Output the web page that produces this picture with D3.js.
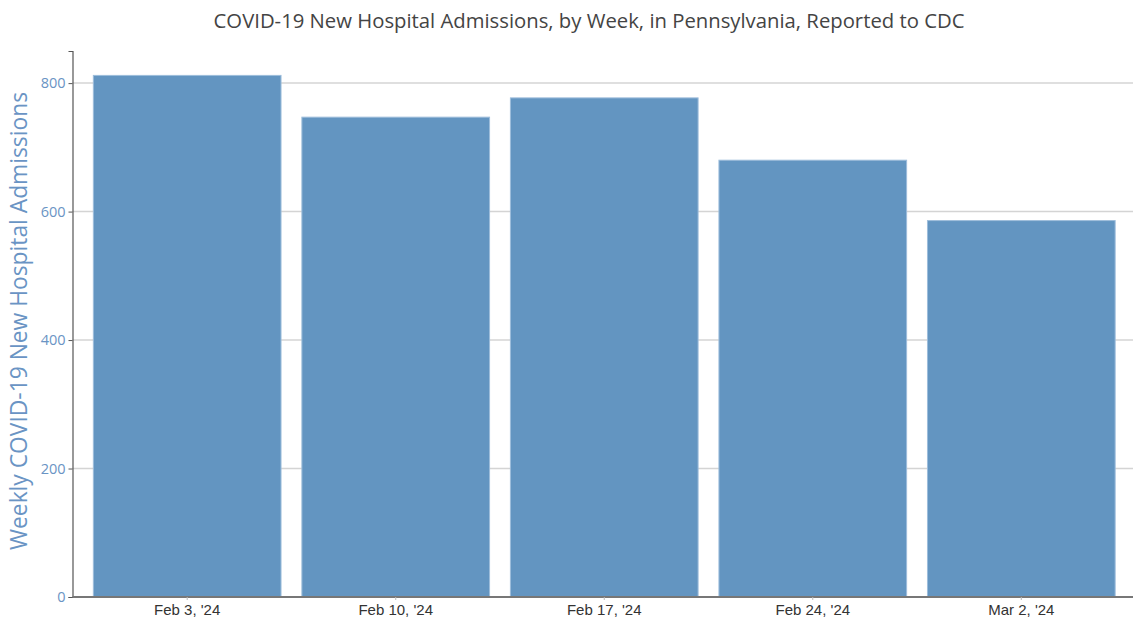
<!DOCTYPE html>
<html>
<head>
<meta charset="utf-8">
<script src="https://cdn.jsdelivr.net/npm/d3@7"></script>
<style>
    body { margin: 0; background: #fff; }
    svg { display: block; font-family: "Open Sans", sans-serif; }
</style>
</head>
<body>
<div id="chart"></div>
<script>
const weeks = ["Feb 3, '24", "Feb 10, '24", "Feb 17, '24", "Feb 24, '24", "Mar 2, '24"];
const admissions = [812, 747, 777, 680, 586];
const yTicks = [0, 200, 400, 600, 800];

const width = 1133, height = 618;
const margin = { top: 51, right: -3, bottom: 21, left: 72.5 };

const svg = d3.select('#chart')
    .append('svg')
    .attr('width', width)
    .attr('height', height);

const xScale = d3.scaleBand()
    .domain(weeks)
    .range([margin.left, width - margin.right])
    .paddingInner(0.1)
    .paddingOuter(0.1);

const yScale = d3.scaleLinear()
    .domain([0, 850])
    .range([height - margin.bottom, margin.top]);

// gridlines
svg.append('g')
    .selectAll('line')
    .data(yTicks.filter(d => d > 0))
    .enter().append('line')
    .attr('x1', margin.left)
    .attr('x2', width)
    .attr('y1', d => yScale(d))
    .attr('y2', d => yScale(d))
    .attr('stroke', '#d4d4d4')
    .attr('stroke-width', 1.5);

// bars
svg.append('g')
    .selectAll('rect')
    .data(weeks)
    .enter().append('rect')
    .attr('x', d => xScale(d))
    .attr('y', (d, i) => yScale(admissions[i]))
    .attr('width', xScale.bandwidth())
    .attr('height', (d, i) => yScale(0) - yScale(admissions[i]))
    .attr('fill', '#6395c1')
    .attr('stroke', '#9dbddb')
    .attr('stroke-width', 1);

// y axis
const yAxis = svg.append('g')
    .attr('transform', `translate(${margin.left}, 0)`)
    .call(d3.axisLeft(yScale).tickValues(yTicks).tickSize(4).tickSizeOuter(4));
yAxis.select('.domain').attr('stroke', '#555').attr('stroke-width', 1.2);
yAxis.selectAll('.tick line').attr('stroke', '#555');
yAxis.selectAll('.tick text')
    .attr('x', -7)
    .attr('fill', '#6a94c4')
    .style('font-family', '"Open Sans", sans-serif')
    .style('font-size', '14.5px');

// x axis
const xAxis = svg.append('g')
    .attr('transform', `translate(0, ${yScale(0)})`)
    .call(d3.axisBottom(xScale).tickSize(3).tickSizeOuter(0));
xAxis.select('.domain')
    .attr('d', `M${margin.left},0H${width}`)
    .attr('stroke', '#777')
    .attr('stroke-width', 2);
xAxis.selectAll('.tick line').attr('stroke', '#bbb');
xAxis.selectAll('.tick text')
    .attr('y', 7)
    .attr('fill', '#333')
    .style('font-family', '"Liberation Sans", Arial, sans-serif')
    .style('font-size', '15px');

// title
svg.append('text')
    .attr('x', 589)
    .attr('y', 28)
    .attr('text-anchor', 'middle')
    .attr('fill', '#444')
    .style('font-size', '20.3px')
    .text('COVID-19 New Hospital Admissions, by Week, in Pennsylvania, Reported to CDC');

// y label
svg.append('text')
    .attr('transform', `translate(27, ${(margin.top + yScale(0)) / 2 - 3}) rotate(-90)`)
    .attr('text-anchor', 'middle')
    .attr('fill', '#6a94c4')
    .style('font-size', '22.8px')
    .text('Weekly COVID-19 New Hospital Admissions');
</script>
</body>
</html>
